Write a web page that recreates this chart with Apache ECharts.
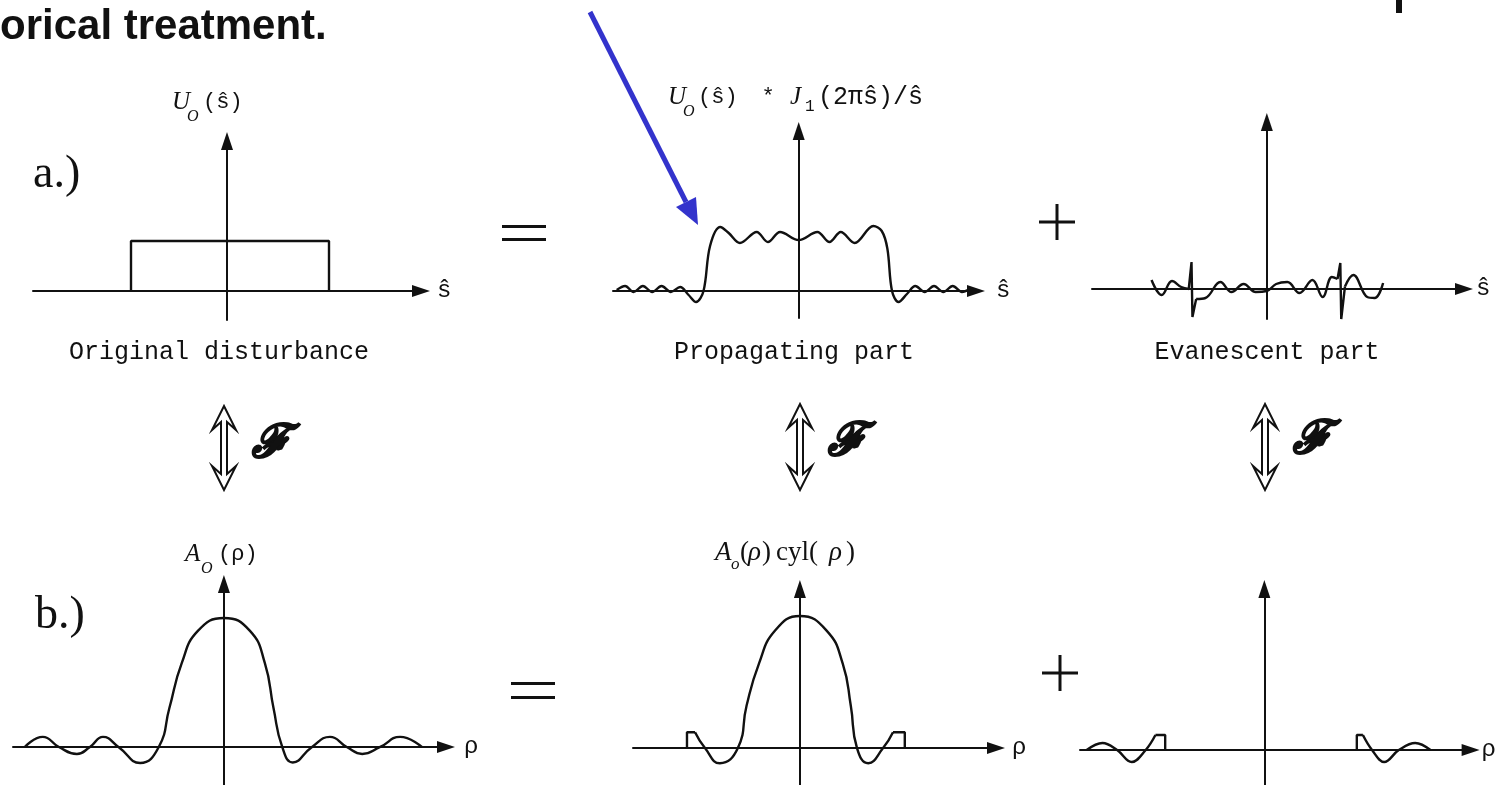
<!DOCTYPE html>
<html>
<head>
<meta charset="utf-8">
<title>Propagating and evanescent parts</title>
<script src="https://cdn.jsdelivr.net/npm/echarts@6/dist/echarts.min.js"></script>
<style>
  html, body { margin: 0; padding: 0; background: #fff; }
  #chart { width: 1497px; height: 785px; }
</style>
</head>
<body>
<div id="chart"></div>
<script>
// row a.) disturbance over s-hat, row b.) its spectrum over rho
// x in units of the aperture half width, y relative to the rect height / main lobe peak
var rectOriginal = [[-0.96, 0], [-0.96, 1], [1.02, 1], [1.02, 0]];

var propagatingPart = [
  [-1.95, 0.02], [-1.86, 0.1], [-1.77, -0.02], [-1.67, 0.1], [-1.57, -0.02], [-1.47, 0.1],
  [-1.37, -0.02], [-1.27, 0.08], [-1.18, -0.08], [-1.1, -0.22], [-1.02, 0], [-0.95, 0.9],
  [-0.84, 1.28], [-0.75, 1.16], [-0.63, 0.96], [-0.45, 1.18], [-0.33, 0.98], [-0.2, 1.18],
  [0, 1.02], [0.2, 1.18], [0.33, 0.98], [0.45, 1.18], [0.6, 0.96], [0.8, 1.3],
  [0.89, 1.2], [0.95, 0.85], [1.0, 0], [1.07, -0.22], [1.16, -0.06], [1.25, 0.1],
  [1.35, -0.02], [1.45, 0.1], [1.55, -0.02], [1.65, 0.1], [1.75, -0.02], [1.83, 0.04]
];

var evanescentLeft = [[-1.24, 0.18], [-1.13, -0.12], [-1.02, 0.16], [-0.92, 0.04], [-0.84, 0]];
var evanescentSpikeLeft = [[-0.84, 0], [-0.81, 0.54], [-0.8, -0.56], [-0.76, -0.2]];
var evanescentMiddle = [
  [-0.76, -0.2], [-0.66, -0.18], [-0.5, 0.14], [-0.38, -0.06], [-0.25, 0.1], [-0.12, -0.06],
  [0, -0.04], [0.1, 0.1], [0.22, 0.14], [0.35, -0.08], [0.49, 0.18], [0.6, -0.16],
  [0.7, 0.24], [0.76, 0.2]
];
var evanescentSpikeRight = [[0.76, 0.2], [0.79, 0.52], [0.8, -0.6], [0.84, 0.05]];
var evanescentRight = [[0.84, 0.05], [0.93, 0.28], [1.08, -0.16], [1.16, -0.18], [1.25, 0.12]];

var spectrumOriginal = [
  [-3.21, 0], [-2.92, 0.078], [-2.66, 0], [-2.37, -0.054], [-2.16, 0], [-1.95, 0.078],
  [-1.7, 0], [-1.35, -0.124], [-1.05, 0], [-0.88, 0.3], [-0.68, 0.65], [-0.42, 0.9],
  [0, 1], [0.42, 0.9], [0.66, 0.65], [0.8, 0.3], [0.94, 0], [1.11, -0.12],
  [1.42, 0], [1.71, 0.078], [1.98, 0], [2.23, -0.054], [2.52, 0], [2.84, 0.078], [3.19, 0]
];

var cylEdgeLeft = [[-1.82, 0], [-1.82, 0.12], [-1.69, 0.12]];
var spectrumPropagating = [
  [-1.69, 0.12], [-1.53, 0], [-1.29, -0.115], [-1.0, 0], [-0.86, 0.32], [-0.66, 0.64],
  [-0.4, 0.89], [0, 1], [0.43, 0.89], [0.69, 0.64], [0.82, 0.32], [0.92, 0],
  [1.1, -0.115], [1.34, 0], [1.5, 0.12]
];
var cylEdgeRight = [[1.5, 0.12], [1.69, 0.12], [1.69, 0]];

var evanSpecLeft = [[-2.92, 0], [-2.66, 0.055], [-2.42, 0], [-2.18, -0.093], [-1.95, 0], [-1.79, 0.116]];
var evanEdgeLeft = [[-1.79, 0.116], [-1.63, 0.116], [-1.63, 0]];
var evanEdgeRight = [[1.52, 0], [1.52, 0.116], [1.62, 0.116]];
var evanSpecRight = [[1.62, 0.116], [1.77, 0], [1.97, -0.093], [2.21, 0], [2.48, 0.055], [2.73, 0]];

var axisNames = ['ŝ', 'ŝ', 'ŝ', 'ρ', 'ρ', 'ρ'];
var captions = ['Original disturbance', 'Propagating part', 'Evanescent part'];

// grid boxes in px, axis ranges so that 0 sits on the drawn axes
var panels = [
  { left: 33, top: 141, width: 388, height: 179, x: [-1.94, 1.94], y: [-0.58, 3.0], gap: 16, up: 10 },
  { left: 613, top: 131, width: 363, height: 187, x: [-1.99, 1.9], y: [-0.54, 3.2], gap: 20, up: 12 },
  { left: 1092, top: 122, width: 372, height: 197, x: [-1.88, 2.12], y: [-0.6, 3.34], gap: 12, up: 20 },
  { left: 13, top: 584, width: 433, height: 201, x: [-3.4, 3.58], y: [-0.295, 1.264], gap: 18, up: 2 },
  { left: 633, top: 589, width: 363, height: 196, x: [-2.69, 3.16], y: [-0.28, 1.205], gap: 16, up: 2 },
  { left: 1080, top: 589, width: 398, height: 196, x: [-3.03, 3.39], y: [-0.271, 1.248], gap: 11, up: 2 }
];

var ink = '#111';

function axisLine() {
  return {
    onZero: true,
    symbol: ['none', 'triangle'],
    symbolSize: [12, 18],
    lineStyle: { color: ink, width: 2 }
  };
}

var grids = [], xAxes = [], yAxes = [];
panels.forEach(function(p, i) {
  grids.push({ left: p.left, top: p.top, width: p.width, height: p.height, containLabel: false });
  xAxes.push({
    type: 'value', gridIndex: i, min: p.x[0], max: p.x[1],
    name: axisNames[i], nameLocation: 'end', nameGap: p.gap,
    nameTextStyle: { color: ink, fontFamily: 'Liberation Mono', fontSize: 24, padding: [0, 0, p.up, 0] },
    axisLine: axisLine(), axisTick: { show: false }, axisLabel: { show: false }, splitLine: { show: false }
  });
  yAxes.push({
    type: 'value', gridIndex: i, min: p.y[0], max: p.y[1],
    axisLine: axisLine(), axisTick: { show: false }, axisLabel: { show: false }, splitLine: { show: false }
  });
});

function curve(data, gi, smooth) {
  return {
    type: 'line', xAxisIndex: gi, yAxisIndex: gi, data: data,
    smooth: smooth, showSymbol: false, symbol: 'none', clip: false, silent: true,
    lineStyle: { color: ink, width: 2.4 }, z: 3
  };
}

function txt(x, y, s, font, align, bold) {
  var style = { text: s, font: font, fill: ink, align: align || 'left', verticalAlign: 'middle' };
  if (bold) {
    style.stroke = ink;
    style.lineWidth = bold;
  }
  return { type: 'text', x: x, y: y, silent: true, style: style };
}

function bar(x, y, w, h, color) {
  return { type: 'rect', silent: true, shape: { x: x, y: y, width: w, height: h }, style: { fill: color || ink } };
}

function dblArrow(cx, y0, y1) {
  return {
    type: 'polygon', silent: true,
    shape: { points: [[cx, y0], [cx + 12, y0 + 24], [cx + 3, y0 + 16], [cx + 3, y1 - 16], [cx + 12, y1 - 24],
      [cx, y1], [cx - 12, y1 - 24], [cx - 3, y1 - 16], [cx - 3, y0 + 16], [cx - 12, y0 + 24]] },
    style: { fill: '#fff', stroke: ink, lineWidth: 2 }
  };
}

var mono = '22px "Liberation Mono"';
var monoBig = '25px "Liberation Mono"';
var ital = 'italic 25px "Liberation Serif"';
var sub = 'italic 16px "Liberation Serif"';
var serif = '27px "Liberation Serif"';
var serifIt = 'italic 27px "Liberation Serif"';
var scriptF = 'italic bold 46px "DejaVu Serif"';

var graphics = [
  txt(0, 27, 'orical treatment.', 'bold 42px "Liberation Sans"'),
  bar(1396, 0, 6, 13),
  // blue pointer
  { type: 'line', silent: true, shape: { x1: 590, y1: 12, x2: 686, y2: 202 }, style: { stroke: '#3333cc', lineWidth: 5 } },
  { type: 'polygon', silent: true, shape: { points: [[698, 225], [676, 207], [696, 197]] }, style: { fill: '#3333cc' } },
  txt(33, 175, 'a.)', '46px "Liberation Serif"'),
  txt(35, 616, 'b.)', '46px "Liberation Serif"'),
  // = and +
  bar(502, 225, 44, 3), bar(502, 238, 44, 3),
  bar(511, 682, 44, 3), bar(511, 696, 44, 3),
  bar(1039, 220.5, 36, 3), bar(1055.5, 204, 3, 36),
  bar(1042, 671.5, 36, 3), bar(1058.5, 655, 3, 36),
  // captions
  txt(219, 352, captions[0], monoBig, 'center'),
  txt(794, 352, captions[1], monoBig, 'center'),
  txt(1267, 352, captions[2], monoBig, 'center'),
  // Fourier pairs
  dblArrow(224, 406, 490), txt(252, 445, 'ℱ', scriptF, 'left', 1.6),
  dblArrow(800, 404, 490), txt(828, 443, 'ℱ', scriptF, 'left', 1.6),
  dblArrow(1265, 404, 490), txt(1293, 441, 'ℱ', scriptF, 'left', 1.6),
  // axis labels
  txt(172, 102, 'U', ital), txt(187, 117, 'O', sub), txt(203, 102, '(ŝ)', mono),
  txt(668, 97, 'U', ital), txt(683, 112, 'O', sub), txt(698, 97, '(ŝ)', mono),
  txt(768, 97, '*', mono, 'center'), txt(790, 97, 'J', ital), txt(805, 107, '1', '16px "Liberation Mono"'),
  txt(818, 97, '(2πŝ)/ŝ', monoBig),
  txt(185, 554, 'A', ital), txt(201, 569, 'O', sub), txt(218, 554, '(ρ)', mono),
  txt(715, 553, 'A', serifIt), txt(731, 565, 'o', 'italic 17px "Liberation Serif"'),
  txt(740, 553, '(', serif), txt(748, 553, 'ρ', serifIt),
  txt(762, 553, ')', serif), txt(776, 553, 'cyl(', serif),
  txt(829, 553, 'ρ', serifIt), txt(846, 553, ')', serif)
];

var myChart = echarts.init(document.getElementById('chart'));
var option = {
  animation: false,
  backgroundColor: '#fff',
  grid: grids,
  xAxis: xAxes,
  yAxis: yAxes,
  series: [
    curve(rectOriginal, 0, false),
    curve(propagatingPart, 1, 0.35),
    curve(evanescentLeft, 2, 0.4),
    curve(evanescentSpikeLeft, 2, false),
    curve(evanescentMiddle, 2, 0.4),
    curve(evanescentSpikeRight, 2, false),
    curve(evanescentRight, 2, 0.4),
    curve(spectrumOriginal, 3, 0.5),
    curve(cylEdgeLeft, 4, false),
    curve(spectrumPropagating, 4, 0.5),
    curve(cylEdgeRight, 4, false),
    curve(evanSpecLeft, 5, 0.4),
    curve(evanEdgeLeft, 5, false),
    curve(evanEdgeRight, 5, false),
    curve(evanSpecRight, 5, 0.4)
  ],
  graphic: graphics
};
myChart.setOption(option);
</script>
</body>
</html>
